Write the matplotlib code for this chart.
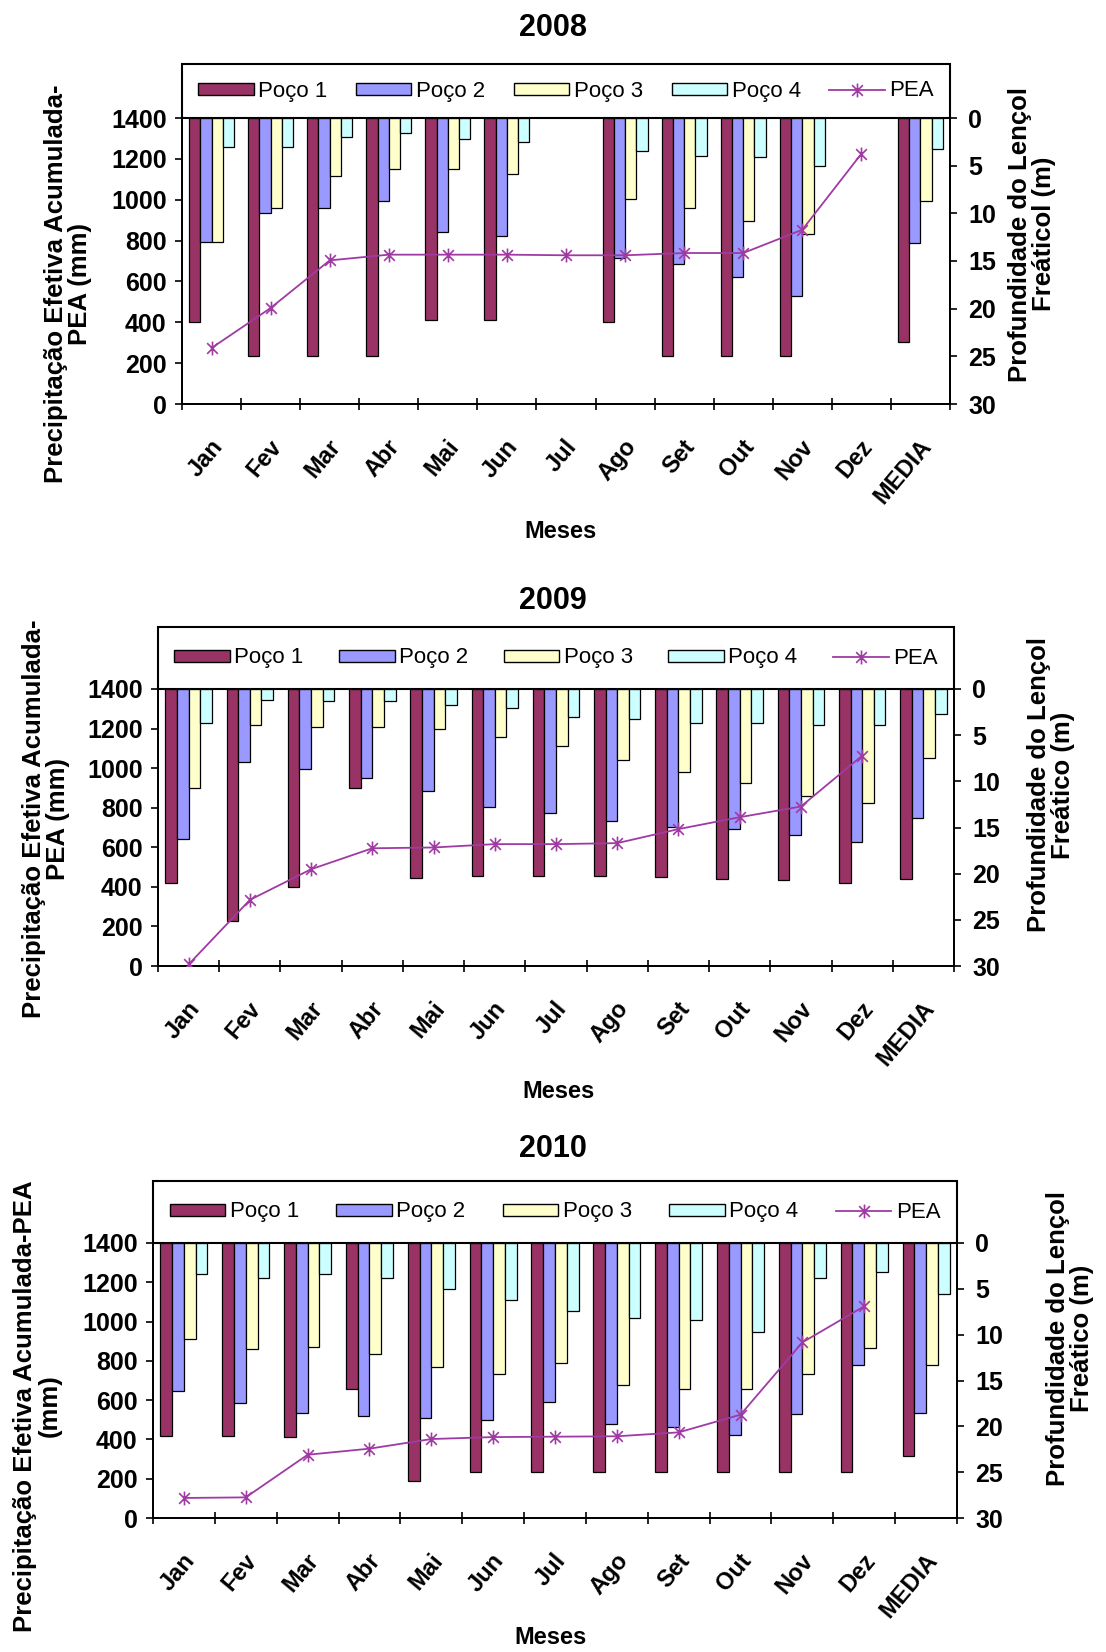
import numpy as np
import matplotlib
matplotlib.use("Agg")
import matplotlib.pyplot as plt
from matplotlib.path import Path
from matplotlib.patches import Patch, Rectangle
from matplotlib.lines import Line2D
from matplotlib.transforms import ScaledTranslation

plt.rcParams["font.family"] = ["Liberation Sans", "DejaVu Sans"]

months = ["Jan", "Fev", "Mar", "Abr", "Mai", "Jun", "Jul", "Ago", "Set",
          "Out", "Nov", "Dez", "MEDIA"]
wells = ["Poço 1", "Poço 2", "Poço 3", "Poço 4"]
nan = np.nan

# Water table depth (m) per well, monthly plus mean
poco1_2008 = [21.4, 25.0, 25.0, 25.0, 21.2, 21.2, nan, 21.4, 25.0, 25.0, 25.0, nan, 23.5]
poco2_2008 = [13.0, 10.0, 9.4, 8.7, 12.0, 12.4, nan, 14.7, 15.3, 16.7, 18.7, nan, 13.1]
poco3_2008 = [13.0, 9.4, 6.1, 5.3, 5.3, 5.9, nan, 8.5, 9.4, 10.8, 12.2, nan, 8.7]
poco4_2008 = [3.0, 3.0, 2.0, 1.6, 2.2, 2.5, nan, 3.5, 4.0, 4.1, 5.0, nan, 3.2]
pea_2008 = [274, 470, 703, 731, 731, 731, 728, 728, 739, 739, 853, 1225]

poco1_2009 = [21.0, 25.1, 21.4, 10.7, 20.5, 20.2, 20.2, 20.2, 20.4, 20.6, 20.7, 21.0, 20.6]
poco2_2009 = [16.2, 7.9, 8.7, 9.6, 11.0, 12.8, 13.4, 14.3, 14.9, 15.2, 15.8, 16.6, 14.0]
poco3_2009 = [10.7, 3.9, 4.1, 4.1, 4.3, 5.2, 6.2, 7.7, 9.0, 10.2, 11.6, 12.4, 7.5]
poco4_2009 = [3.7, 1.2, 1.3, 1.3, 1.7, 2.1, 3.0, 3.3, 3.7, 3.7, 3.9, 3.9, 2.7]
pea_2009 = [8, 334, 489, 595, 599, 616, 616, 621, 692, 752, 806, 1063]

poco1_2010 = [21.0, 21.0, 21.2, 15.9, 26.0, 25.0, 25.0, 25.0, 25.0, 25.0, 25.0, 25.0, 23.2]
poco2_2010 = [16.1, 17.5, 18.5, 18.9, 19.1, 19.3, 17.3, 19.7, 20.1, 20.9, 18.7, 13.3, 18.5]
poco3_2010 = [10.5, 11.6, 11.3, 12.1, 13.5, 14.3, 13.1, 15.5, 15.9, 15.9, 14.3, 11.5, 13.3]
poco4_2010 = [3.4, 3.8, 3.4, 3.8, 5.0, 6.2, 7.4, 8.2, 8.4, 9.7, 3.8, 3.2, 5.6]
pea_2010 = [102, 105, 322, 353, 402, 412, 414, 416, 436, 526, 894, 1078]

well_colors = ["#993366", "#9999FF", "#FFFFCC", "#CCFFFF"]
pea_color = "#A03AA3"

# Excel-style star marker: an "x" crossed by a vertical stroke
star = Path([(-1, -1), (1, 1), (-1, 1), (1, -1), (0, -1.3), (0, 1.3)],
            [Path.MOVETO, Path.LINETO, Path.MOVETO, Path.LINETO,
             Path.MOVETO, Path.LINETO])

W, H = 1106, 1652
fig = plt.figure(figsize=(W / 100, H / 100), dpi=100)


def px_rect(left, right, top, bottom):
    return [left / W, 1 - bottom / H, (right - left) / W, (bottom - top) / H]


panels = [
    dict(title="2008", wells=[poco1_2008, poco2_2008, poco3_2008, poco4_2008], pea=pea_2008,
         box=(182, 950, 118, 404), leg_px=54, title_y=28, xlab=(560, 531),
         ylab_left=("Precipitação Efetiva Acumulada-\nPEA (mm)", 68, 284),
         ylab_right=("Profundidade do Lençol\nFreáticol (m)", 1032, 234)),
    dict(title="2009", wells=[poco1_2009, poco2_2009, poco3_2009, poco4_2009], pea=pea_2009,
         box=(158, 954, 689, 966), leg_px=62, title_y=601, xlab=(558, 1092),
         ylab_left=("Precipitação Efetiva Acumulada-\nPEA (mm)", 46, 819),
         ylab_right=("Profundidade do Lençol\nFreático (m)", 1051, 785)),
    dict(title="2010", wells=[poco1_2010, poco2_2010, poco3_2010, poco4_2010], pea=pea_2010,
         box=(153, 957, 1243, 1518), leg_px=62, title_y=1149, xlab=(550, 1638),
         ylab_left=("Precipitação Efetiva Acumulada-PEA\n(mm)", 37, 1406),
         ylab_right=("Profundidade do Lençol\nFreático (m)", 1070, 1338)),
]

x = np.arange(len(months))
bw = 0.19
offsets = (np.arange(4) - 1.5) * bw

for p in panels:
    l, r, t, b = p["box"]
    ax = fig.add_axes(px_rect(l, r, t, b))
    # bars hang from the top: depth axis inverted, drawn on the right
    for k in range(4):
        ax.bar(x + offsets[k], p["wells"][k], width=bw, color=well_colors[k],
               edgecolor="black", linewidth=0.9, zorder=2)
    ax.set_ylim(30, 0)
    ax.set_xlim(-0.5, len(months) - 0.5)

    ax2 = ax.twinx()
    ax2.plot(np.arange(len(p["pea"])), p["pea"], color=pea_color, lw=1.3,
             marker=star, ms=10, mew=1.2, mfc="none", zorder=5)
    ax2.set_ylim(0, 1400)
    ax2.set_yticks(np.arange(0, 1401, 200))
    ax2.yaxis.tick_left()
    ax.yaxis.tick_right()
    ax.set_yticks(np.arange(0, 31, 5))

    for a in (ax, ax2):
        a.spines["top"].set_visible(False)
        for s in ("left", "right", "bottom"):
            a.spines[s].set_linewidth(1.3)
    ax.tick_params(axis="y", direction="out", length=5, width=1.2, labelsize=18, pad=8)
    ax2.tick_params(axis="y", direction="out", length=5, width=1.2, labelsize=18, pad=6)
    for lab in ax.get_yticklabels() + ax2.get_yticklabels():
        lab.set_fontweight("bold")

    ax.set_xticks(x)
    ax.set_xticklabels(months, rotation=50, ha="right", va="center",
                       rotation_mode="anchor", fontsize=17, fontweight="bold")
    ax.tick_params(axis="x", which="major", length=0, pad=28)
    ax.set_xticks(np.arange(-0.5, len(months), 1), minor=True)
    ax.tick_params(axis="x", which="minor", length=8, width=1.2, direction="inout")
    shift = ScaledTranslation(7 / 100, 0, fig.dpi_scale_trans)
    for lab in ax.get_xticklabels():
        lab.set_transform(lab.get_transform() + shift)

    # legend box across the full plot width, sitting on top of the plot area
    leg_h = p["leg_px"] / (b - t)
    ax2.add_patch(Rectangle((0, 1), 1, leg_h, transform=ax2.transAxes,
                            facecolor="white", edgecolor="black", linewidth=1.5,
                            clip_on=False, zorder=6))
    handles = [Patch(facecolor=c, edgecolor="black", linewidth=1.0) for c in well_colors]
    handles.append(Line2D([], [], color=pea_color, lw=1.3, marker=star, ms=10,
                          mew=1.2, mfc="none"))
    leg = ax2.legend(handles, wells + ["PEA"], loc="center",
                     bbox_to_anchor=(0.015, 1, 0.97, leg_h), mode="expand", ncol=5,
                     borderaxespad=0, frameon=False, fontsize=16, handlelength=2.5,
                     handleheight=0.45, handletextpad=0.2, borderpad=0.2)
    leg.set_zorder(7)

    fig.text(553 / W, 1 - p["title_y"] / H, p["title"], ha="center", va="center",
             fontsize=22, fontweight="bold")
    fig.text(p["xlab"][0] / W, 1 - p["xlab"][1] / H, "Meses", ha="center",
             va="center", fontsize=17, fontweight="bold")
    txt, xl, yl = p["ylab_left"]
    fig.text(xl / W, 1 - yl / H, txt, rotation=90, ha="center", va="center",
             multialignment="center", fontsize=18.5, fontweight="bold", linespacing=1.05)
    txt, xr, yr = p["ylab_right"]
    fig.text(xr / W, 1 - yr / H, txt, rotation=90, ha="center", va="center",
             multialignment="center", fontsize=18.5, fontweight="bold", linespacing=1.05)

fig.savefig("out.png", dpi=100, facecolor="white")
